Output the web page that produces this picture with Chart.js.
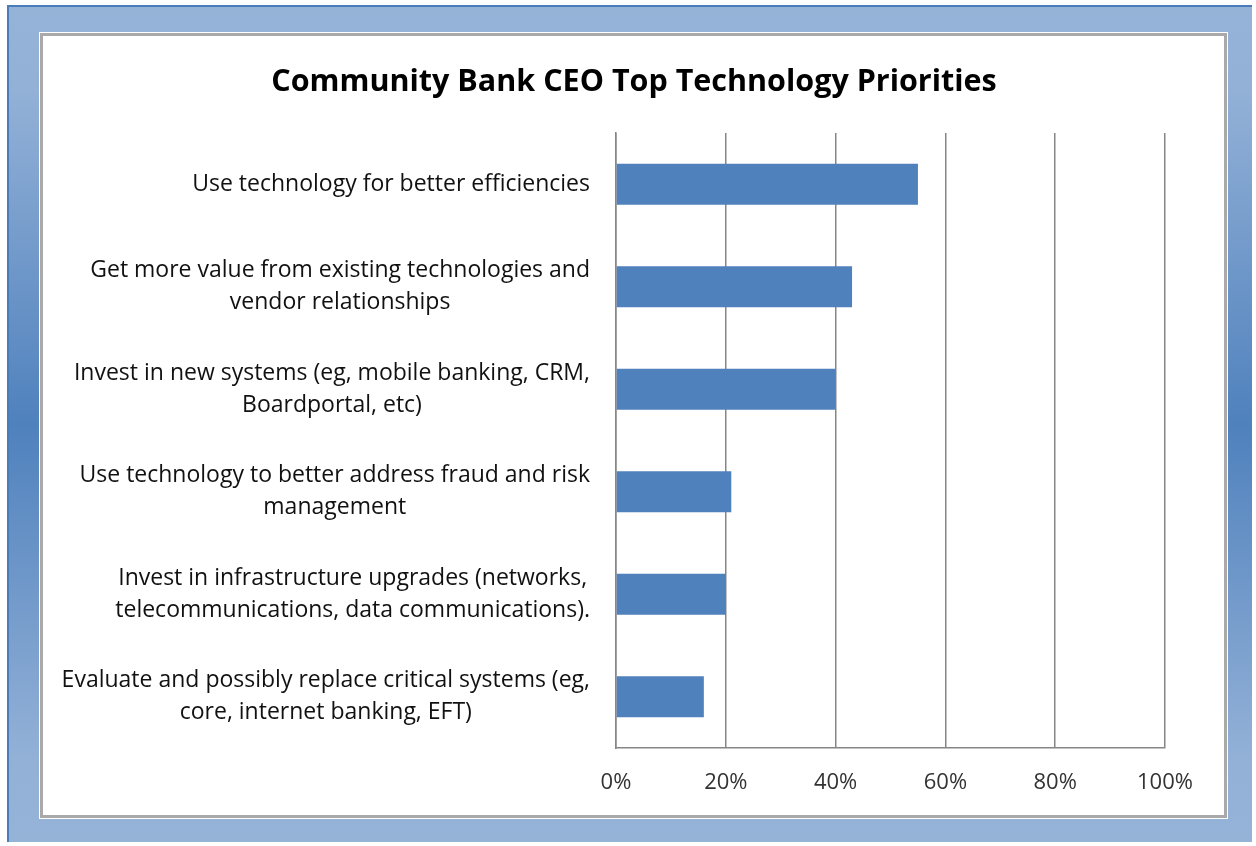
<!DOCTYPE html>
<html>
<head>
<meta charset="utf-8">
<script src="https://cdn.jsdelivr.net/npm/chart.js@4"></script>
<style>
    html, body { margin: 0; padding: 0; background: #fff; }
    .frame {
        position: absolute; left: 7px; top: 5px; width: 1245px; height: 837px;
        box-sizing: border-box;
        border-left: 2px solid #4a7cba; border-top: 2px solid #4a7cba;
        background: linear-gradient(to bottom, #95b3d7 0%, #93b1d7 10%, #4f81bd 50%, #93b1d7 90%, #95b3d7 100%);
    }
    .panel {
        position: absolute; left: 40px; top: 33px; width: 1187px; height: 785px;
        box-sizing: border-box; background: #fff;
        border: 3px solid #a9a9a9; outline: 1px solid #fff;
    }
    #chart { position: absolute; left: 0; top: 0; }
</style>
</head>
<body>
<div class="frame"></div>
<div class="panel"></div>
<canvas id="chart" width="1256" height="846"></canvas>
<script>
// 图表数据
const title = 'Community Bank CEO Top Technology Priorities';
const categories = [
    ['Use technology for better efficiencies'],
    ['Get more value from existing technologies and', 'vendor relationships'],
    ['Invest in new systems (eg, mobile banking, CRM,', 'Boardportal, etc)'],
    ['Use technology to better address fraud and risk', 'management'],
    ['Invest in infrastructure upgrades (networks,', 'telecommunications, data communications).'],
    ['Evaluate and possibly replace critical systems (eg,', 'core, internet banking, EFT)']
];
const values = [55, 43, 40, 21, 20, 16];
const tickValues = [0, 20, 40, 60, 80, 100];

const FONT = '"Open Sans", sans-serif';

// 标题居中于白色面板，左侧分类标签整体右对齐、多行之间居中
const textPlugin = {
    id: 'textPlugin',
    afterDraw(chart) {
        const ctx = chart.ctx;
        const yScale = chart.scales.y;
        ctx.save();
        ctx.fillStyle = '#000';
        ctx.textAlign = 'center';
        ctx.textBaseline = 'middle';
        ctx.font = 'bold 30.5px ' + FONT;
        ctx.fillText(title, 634, 82);

        const right = chart.chartArea.left - 26;
        const lineH = 32;
        ctx.font = '23px ' + FONT;
        ctx.fillStyle = '#111';
        categories.forEach((lines, i) => {
            const y = yScale.getPixelForValue(i);
            const w = Math.max(...lines.map(l => ctx.measureText(l).width));
            const cx = right - w / 2;
            const y0 = y - (lines.length - 1) * lineH / 2;
            lines.forEach((l, k) => ctx.fillText(l, cx, y0 + k * lineH));
        });
        ctx.restore();
    }
};

new Chart(document.getElementById('chart'), {
    type: 'bar',
    data: {
        labels: categories.map(c => c.join(' ')),
        datasets: [{
            data: values,
            backgroundColor: '#4f81bd',
            categoryPercentage: 1,
            barPercentage: 0.4
        }]
    },
    options: {
        indexAxis: 'y',
        responsive: false,
        animation: false,
        layout: { padding: { left: 40, right: 91, top: 133, bottom: 0 } },
        plugins: {
            legend: { display: false },
            tooltip: { enabled: false },
            title: { display: false }
        },
        scales: {
            x: {
                min: 0,
                max: 100,
                afterBuildTicks: s => { s.ticks = tickValues.map(v => ({ value: v })); },
                afterFit: s => { s.height = 98; },
                ticks: {
                    callback: v => v + '%',
                    color: '#333',
                    padding: 22,
                    font: { family: FONT, size: 22 }
                },
                grid: { color: '#868686', lineWidth: 1.5, drawTicks: false },
                border: { color: '#868686', width: 1.5 }
            },
            y: {
                afterFit: s => { s.width = 576; },
                ticks: { display: false },
                grid: { display: false },
                border: { color: '#868686', width: 1.5 }
            }
        }
    },
    plugins: [textPlugin]
});
</script>
</body>
</html>
